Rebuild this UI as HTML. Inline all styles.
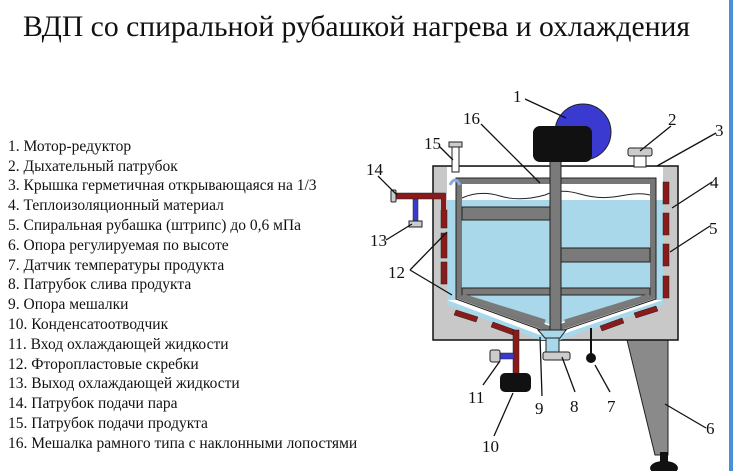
<!DOCTYPE html>
<html><head><meta charset="utf-8"><style>
html,body{margin:0;padding:0;background:#fff;width:733px;height:471px;overflow:hidden}
svg{display:block}
text{font-family:"Liberation Serif",serif;fill:#111}
</style></head><body>
<svg width="733" height="471" viewBox="0 0 733 471" xmlns="http://www.w3.org/2000/svg">
<rect x="729" y="0" width="4" height="471" fill="#4a8fd8"/>
<text x="23" y="36" font-size="30" textLength="667" lengthAdjust="spacingAndGlyphs">ВДП со спиральной рубашкой нагрева и охлаждения</text>
<g font-size="15.5">
<text x="8" y="151">1. Мотор-редуктор</text>
<text x="8" y="171">2. Дыхательный патрубок</text>
<text x="8" y="190">3. Крышка герметичная открывающаяся на 1/3</text>
<text x="8" y="210">4. Теплоизоляционный материал</text>
<text x="8" y="230">5. Спиральная рубашка (штрипс) до 0,6 мПа</text>
<text x="8" y="250">6. Опора регулируемая по высоте</text>
<text x="8" y="270">7. Датчик температуры продукта</text>
<text x="8" y="289">8. Патрубок слива продукта</text>
<text x="8" y="309">9. Опора мешалки</text>
<text x="8" y="329">10. Конденсатоотводчик</text>
<text x="8" y="349">11. Вход охлаждающей жидкости</text>
<text x="8" y="369">12. Фторопластовые скребки</text>
<text x="8" y="388">13. Выход охлаждающей жидкости</text>
<text x="8" y="408">14. Патрубок подачи пара</text>
<text x="8" y="428">15. Патрубок подачи продукта</text>
<text x="8" y="448">16. Мешалка рамного типа с наклонными лопостями</text>
</g>
<!-- leg -->
<polygon points="627,340 668,340 668,455 655,455" fill="#8a8a8a" stroke="#222"/>
<rect x="660" y="452" width="8" height="10" fill="#111"/>
<ellipse cx="664" cy="468" rx="14" ry="7" fill="#111"/>
<!-- outer box -->
<rect x="433" y="166" width="245" height="174" fill="#c8c8c8" stroke="#111" stroke-width="1.5"/>
<polygon points="447,167 663,167 663,300 558,338 540,338 447,300" fill="#fff"/>
<!-- jacket blue -->
<rect x="447" y="200" width="10" height="100" fill="#a8d8ea"/>
<rect x="655" y="200" width="8" height="100" fill="#a8d8ea"/>
<polygon points="447,300 540,335 560,335 663,300 663,305 560,340 540,340 447,305" fill="#a8d8ea"/>
<!-- vessel liquid -->
<polygon points="462,200 650,200 650,297 552,325 462,297" fill="#a8d8ea"/>
<path d="M462,198 Q480,190 500,196 T545,195 Q560,188 580,194 T620,196 T650,195 L650,183 L462,183 Z" fill="#fff"/>
<path d="M462,198 Q480,190 500,196 T545,195 Q560,188 580,194 T620,196 T650,195" fill="none" stroke="#222" stroke-width="1"/>
<!-- vessel walls -->
<path d="M459,181 L653,181 L653,296 L552,330 L459,296 Z" fill="none" stroke="#777" stroke-width="6"/>
<path d="M456,178 L656,178 L656,299 L552,334 L456,299 Z" fill="none" stroke="#222" stroke-width="1"/>
<!-- paddles -->
<rect x="462" y="207" width="88" height="13" fill="#7a7a7a" stroke="#222"/>
<rect x="561" y="248" width="89" height="14" fill="#7a7a7a" stroke="#222"/>
<rect x="462" y="288" width="188" height="7" fill="#7a7a7a" stroke="#222"/>
<path d="M462,296 L545,322 M650,296 L565,322" stroke="#7a7a7a" stroke-width="5"/>
<!-- red jacket segments -->
<g fill="#8b1a1a" stroke="#222" stroke-width="0.5">
<rect x="441" y="210" width="6" height="18"/><rect x="441" y="233" width="6" height="25"/><rect x="441" y="262" width="6" height="22"/>
<rect x="663" y="182" width="6" height="22"/><rect x="663" y="213" width="6" height="22"/><rect x="663" y="244" width="6" height="22"/><rect x="663" y="276" width="6" height="22"/>
<polygon points="456,310 478,317 476,322 454,315"/><polygon points="493,322 515,330 513,335 491,327"/>
<polygon points="634,313 656,306 658,311 636,318"/><polygon points="600,326 622,318 624,323 602,331"/>
</g>
<!-- shaft -->
<rect x="550" y="150" width="11" height="182" fill="#7a7a7a" stroke="#222"/>
<!-- bottom port 8 -->
<polygon points="538,330 566,330 560,338 545,338" fill="#a8d8ea" stroke="#222"/>
<rect x="546" y="338" width="13" height="14" fill="#a8d8ea" stroke="#222"/>
<rect x="543" y="352" width="27" height="8" rx="2" fill="#ccc" stroke="#222"/>
<!-- sensor 7 -->
<line x1="591" y1="328" x2="591" y2="355" stroke="#111" stroke-width="2"/>
<circle cx="591" cy="358" r="5" fill="#111"/>
<!-- 10/11 -->
<rect x="513" y="330" width="6" height="46" fill="#8b1a1a" stroke="#222" stroke-width="0.5"/>
<rect x="500" y="353" width="14" height="6" fill="#3a3ad0" stroke="#222" stroke-width="0.5"/>
<rect x="490" y="350" width="10" height="12" rx="2" fill="#ccc" stroke="#222"/>
<rect x="500" y="373" width="31" height="19" rx="5" fill="#111"/>
<!-- pipes 14/13 -->
<rect x="395" y="193" width="50" height="6" fill="#8b1a1a" stroke="#222" stroke-width="0.5"/>
<rect x="441" y="193" width="5" height="20" fill="#8b1a1a"/>
<rect x="391" y="190" width="5" height="12" rx="1" fill="#ccc" stroke="#222"/>
<rect x="413" y="199" width="5" height="22" fill="#3a3ad0" stroke="#222" stroke-width="0.5"/>
<rect x="409" y="221" width="13" height="6" fill="#ccc" stroke="#222"/>
<!-- port 15 -->
<rect x="449" y="142" width="13" height="5" fill="#ccc" stroke="#222"/>
<rect x="452" y="147" width="7" height="25" fill="#fff" stroke="#222"/>
<path d="M450,185 q5,-10 10,0" stroke="#8ad" fill="none" stroke-width="3"/>
<!-- port 2 -->
<rect x="628" y="148" width="24" height="8" rx="2" fill="#ccc" stroke="#222"/>
<rect x="634" y="156" width="12" height="11" fill="#fff" stroke="#222"/>
<!-- motor -->
<circle cx="583" cy="132" r="28" fill="#3a3ad0" stroke="#222"/>
<rect x="533" y="126" width="59" height="36" rx="7" fill="#111"/>
<!-- leaders -->
<g stroke="#111" stroke-width="1.3" fill="none">
<path d="M525,99 L566,118"/><path d="M481,124 L540,183"/><path d="M440,147 L453,160"/>
<path d="M671,126 L640,151"/><path d="M716,133 L657,166"/><path d="M712,182 L672,208"/>
<path d="M710,226 L670,252"/><path d="M378,176 L397,195"/><path d="M386,240 L412,224"/>
<path d="M410,270 L447,232 M410,270 L452,295"/><path d="M483,385 L500,361"/><path d="M494,436 L513,393"/>
<path d="M542,396 L540,337"/><path d="M575,392 L562,357"/><path d="M610,392 L595,365"/><path d="M706,428 L665,404"/>
</g>
<g font-size="17">
<text x="513" y="102">1</text><text x="463" y="124">16</text><text x="424" y="149">15</text>
<text x="668" y="125">2</text><text x="715" y="136">3</text><text x="710" y="188">4</text><text x="709" y="234">5</text>
<text x="366" y="175">14</text><text x="370" y="246">13</text><text x="388" y="278">12</text>
<text x="468" y="403">11</text><text x="482" y="452">10</text><text x="535" y="414">9</text><text x="570" y="412">8</text>
<text x="607" y="412">7</text><text x="706" y="434">6</text>
</g>
</svg>
</body></html>
